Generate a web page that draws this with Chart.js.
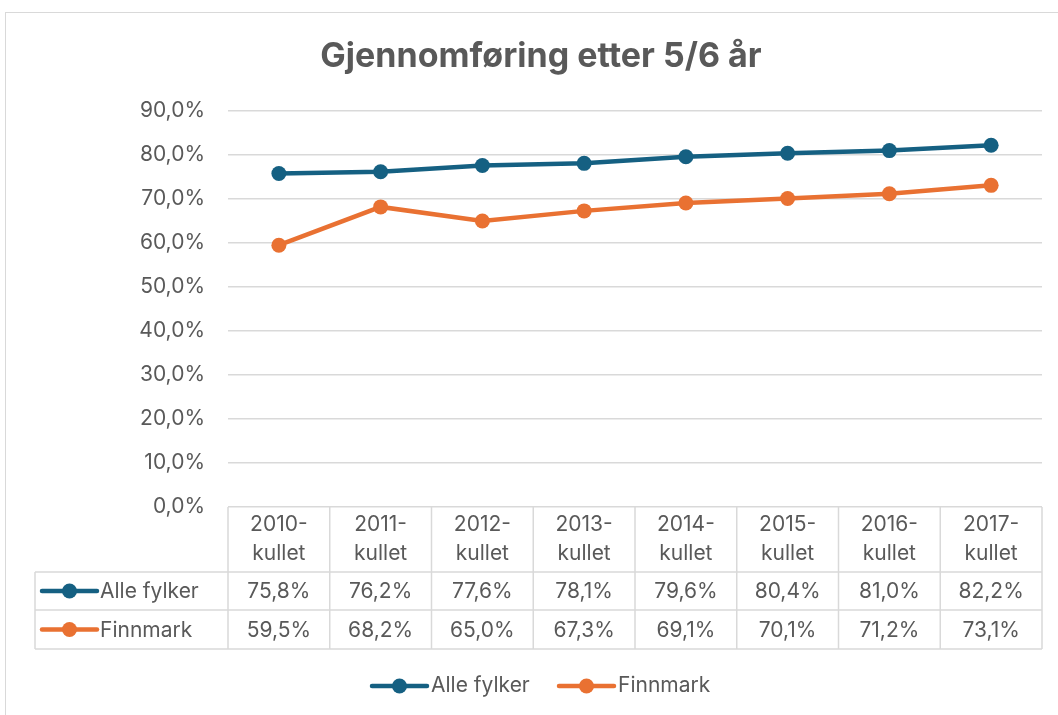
<!DOCTYPE html>
<html>
<head>
<meta charset="utf-8">
<script src="https://cdn.jsdelivr.net/npm/chart.js@4"></script>
<style>
  body { margin: 0; background: #fff; }
  #frame { position: absolute; left: 5px; top: 12px; width: 1060px; height: 710px; border: 1px solid #d9d9d9; box-sizing: border-box; }
  #wrap { position: absolute; left: 0; top: 0; width: 1058px; height: 715px; }
</style>
</head>
<body>
<div id="frame"></div>
<div id="wrap"><canvas id="myChart"></canvas></div>
<script>
const chartTitle = "Gjennomføring etter 5/6 år";
const categories = ["2010-kullet", "2011-kullet", "2012-kullet", "2013-kullet", "2014-kullet", "2015-kullet", "2016-kullet", "2017-kullet"];
const seriesNames = ["Alle fylker", "Finnmark"];
const alleFylker = [75.8, 76.2, 77.6, 78.1, 79.6, 80.4, 81.0, 82.2];
const finnmark = [59.5, 68.2, 65.0, 67.3, 69.1, 70.1, 71.2, 73.1];
const seriesColors = ["#156082", "#E97132"];

const textColor = "#595959";
const gridColor = "#d9d9d9";
const fontFamily = "Inter, sans-serif";
const fontSize = 21;

function pct(v) {
  return v.toFixed(1).replace(".", ",") + "%";
}

function legendIcon(ctx, x, y, color) {
  ctx.strokeStyle = color;
  ctx.lineWidth = 4.5;
  ctx.lineCap = "round";
  ctx.beginPath();
  ctx.moveTo(x, y);
  ctx.lineTo(x + 55, y);
  ctx.stroke();
  ctx.fillStyle = color;
  ctx.beginPath();
  ctx.arc(x + 27.5, y, 7.5, 0, Math.PI * 2);
  ctx.fill();
}

// title, data table under the plot and legend at the bottom
const tablePlugin = {
  id: "tablePlugin",
  afterDraw(chart) {
    const ctx = chart.ctx;
    const area = chart.chartArea;
    const xs = chart.scales.x;
    const n = categories.length;
    const step = (area.right - area.left) / n;
    const top = area.bottom;
    const headBottom = top + 65;
    const row1Bottom = headBottom + 38;
    const row2Bottom = row1Bottom + 39;
    const tableLeft = 35;

    ctx.save();
    ctx.fillStyle = textColor;
    ctx.font = "bold 34px Inter, sans-serif";
    ctx.textAlign = "center";
    ctx.textBaseline = "middle";
    ctx.fillText(chartTitle, 541, 57);

    ctx.strokeStyle = gridColor;
    ctx.lineWidth = 1.5;
    ctx.beginPath();
    for (let i = 0; i <= n; i++) {
      const x = area.left + i * step;
      ctx.moveTo(x, top);
      ctx.lineTo(x, row2Bottom);
    }
    ctx.moveTo(tableLeft, headBottom);
    ctx.lineTo(tableLeft, row2Bottom);
    [headBottom, row1Bottom, row2Bottom].forEach((y) => {
      ctx.moveTo(tableLeft, y);
      ctx.lineTo(area.right, y);
    });
    ctx.stroke();

    ctx.font = fontSize + "px " + fontFamily;
    ctx.fillStyle = textColor;
    ctx.textAlign = "center";
    categories.forEach((c, i) => {
      const x = xs.getPixelForValue(i);
      const parts = c.split("-");
      ctx.fillText(parts[0] + "-", x, top + 18);
      ctx.fillText(parts[1], x, top + 47);
      ctx.fillText(pct(alleFylker[i]), x, (headBottom + row1Bottom) / 2 + 1);
      ctx.fillText(pct(finnmark[i]), x, (row1Bottom + row2Bottom) / 2 + 1);
    });

    ctx.textAlign = "left";
    const rowMids = [(headBottom + row1Bottom) / 2, (row1Bottom + row2Bottom) / 2];
    seriesNames.forEach((name, k) => {
      legendIcon(ctx, 42, rowMids[k], seriesColors[k]);
      ctx.fillStyle = textColor;
      ctx.fillText(name, 100, rowMids[k] + 1);
    });

    // bottom legend
    const legendY = 686;
    legendIcon(ctx, 372, legendY, seriesColors[0]);
    ctx.fillStyle = textColor;
    ctx.fillText(seriesNames[0], 431, legendY);
    legendIcon(ctx, 559, legendY, seriesColors[1]);
    ctx.fillStyle = textColor;
    ctx.fillText(seriesNames[1], 618, legendY);
    ctx.restore();
  },
};

const ctx = document.getElementById("myChart").getContext("2d");
const myChart = new Chart(ctx, {
  type: "line",
  data: {
    labels: categories,
    datasets: [
      {
        label: seriesNames[0],
        data: alleFylker,
        borderColor: seriesColors[0],
        backgroundColor: seriesColors[0],
        borderWidth: 4.5,
        pointRadius: 7.5,
        pointHoverRadius: 7.5,
        pointBorderWidth: 0,
      },
      {
        label: seriesNames[1],
        data: finnmark,
        borderColor: seriesColors[1],
        backgroundColor: seriesColors[1],
        borderWidth: 4.5,
        pointRadius: 7.5,
        pointHoverRadius: 7.5,
        pointBorderWidth: 0,
      },
    ],
  },
  options: {
    responsive: true,
    maintainAspectRatio: false,
    animation: false,
    layout: { padding: { top: 111, bottom: 66, left: 0, right: 16 } },
    plugins: {
      legend: { display: false },
      title: { display: false },
      tooltip: { enabled: false },
    },
    scales: {
      x: {
        offset: true,
        grid: { display: false },
        border: { display: false },
        ticks: { display: false },
        afterFit: (scale) => { scale.height = 142; },
      },
      y: {
        min: 0,
        max: 90,
        ticks: {
          stepSize: 10,
          padding: 23,
          color: textColor,
          font: { family: "Inter", size: fontSize },
          callback: (v) => pct(v),
        },
        grid: { color: gridColor, lineWidth: 1.5, drawTicks: false },
        border: { display: false },
        afterFit: (scale) => { scale.width = 228; },
      },
    },
  },
  plugins: [tablePlugin],
});
</script>
</body>
</html>
